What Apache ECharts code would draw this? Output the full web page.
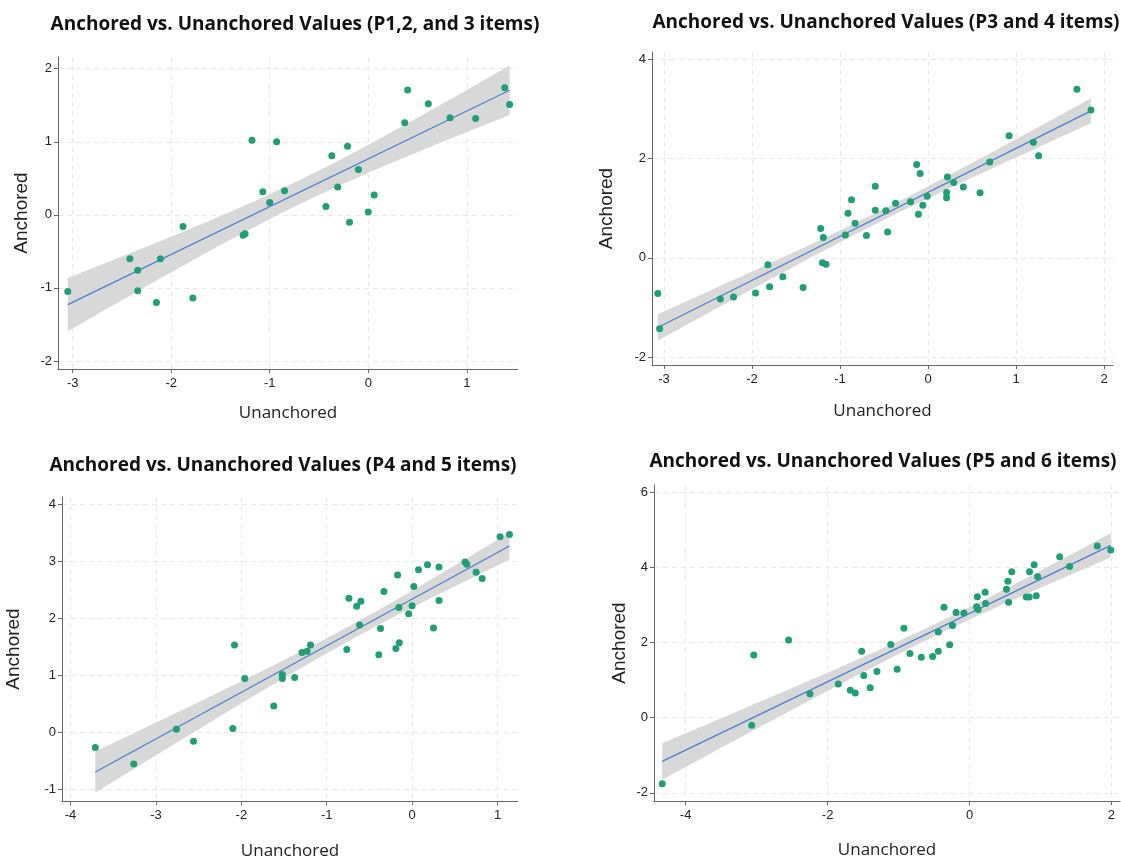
<!DOCTYPE html>
<html>
<head>
<meta charset="utf-8">
<script src="https://cdn.jsdelivr.net/npm/echarts@6/dist/echarts.min.js"></script>
<style>
	html, body { margin: 0; padding: 0; background: #fff; }
	#main { width: 1121px; height: 861px; }
</style>
</head>
<body>
<div id="main"></div>
<script>
	'use strict';

	// values
	var titles = [
		'Anchored vs. Unanchored Values (P1,2, and 3 items)',
		'Anchored vs. Unanchored Values (P3 and 4 items)',
		'Anchored vs. Unanchored Values (P4 and 5 items)',
		'Anchored vs. Unanchored Values (P5 and 6 items)'
	];

	var p1X = [-3.05, -2.42, -2.34, -2.34, -2.15, -2.11, -1.88, -1.78, -1.27, -1.25, -1.18, -1.07, -1.00, -0.93, -0.85,
		-0.43, -0.37, -0.31, -0.21, -0.19, -0.10, 0.00, 0.06, 0.37, 0.40, 0.61, 0.83, 1.09, 1.385, 1.435];
	var p1Y = [-1.05, -0.60, -0.76, -1.04, -1.20, -0.60, -0.16, -1.14, -0.28, -0.26, 1.02, 0.315, 0.17, 1.00, 0.33,
		0.115, 0.81, 0.38, 0.94, -0.10, 0.62, 0.04, 0.27, 1.26, 1.71, 1.52, 1.33, 1.32, 1.74, 1.51];

	var p2X = [-3.07, -3.05, -2.36, -2.21, -1.96, -1.82, -1.80, -1.65, -1.42, -1.22, -1.19, -1.20, -1.16, -0.94, -0.91,
		-0.87, -0.83, -0.70, -0.60, -0.60, -0.48, -0.46, -0.37, -0.20, -0.13, -0.09, -0.11, -0.06, -0.01, 0.21,
		0.21, 0.22, 0.29, 0.40, 0.59, 0.70, 0.92, 1.195, 1.255, 1.69, 1.85];
	var p2Y = [-0.72, -1.43, -0.83, -0.79, -0.71, -0.14, -0.58, -0.38, -0.60, 0.59, 0.41, -0.10, -0.13, 0.46, 0.90,
		1.17, 0.70, 0.45, 1.445, 0.96, 0.95, 0.52, 1.10, 1.13, 1.88, 1.70, 0.88, 1.06, 1.24, 1.32,
		1.21, 1.63, 1.52, 1.43, 1.31, 1.93, 2.46, 2.33, 2.06, 3.40, 2.98];

	var p3X = [-3.71, -3.26, -2.76, -2.56, -2.10, -2.08, -1.96, -1.62, -1.52, -1.52, -1.375, -1.29, -1.23, -1.19,
		-0.765, -0.74, -0.65, -0.60, -0.615, -0.39, -0.37, -0.33, -0.19, -0.15, -0.17, -0.155, -0.04, 0.00,
		0.02, 0.075, 0.18, 0.25, 0.315, 0.315, 0.62, 0.64, 0.75, 0.82, 1.03, 1.14];
	var p3Y = [-0.27, -0.56, 0.05, -0.16, 0.065, 1.53, 0.94, 0.46, 1.01, 0.94, 0.96, 1.40, 1.42, 1.53,
		1.45, 2.35, 2.21, 2.30, 1.88, 1.36, 1.82, 2.47, 1.47, 1.57, 2.76, 2.19, 2.08, 2.22,
		2.56, 2.85, 2.94, 1.83, 2.90, 2.31, 2.99, 2.95, 2.81, 2.70, 3.43, 3.47];

	var p4X = [-4.33, -3.07, -3.04, -2.55, -2.25, -1.85, -1.68, -1.61, -1.52, -1.49, -1.40, -1.305, -1.11, -1.02,
		-0.925, -0.84, -0.68, -0.52, -0.44, -0.44, -0.36, -0.28, -0.24, -0.19, -0.08, 0.11, 0.10, 0.12,
		0.22, 0.225, 0.52, 0.54, 0.55, 0.595, 0.80, 0.84, 0.845, 0.91, 0.94, 0.96, 1.27, 1.41, 1.80, 1.99];
	var p4Y = [-1.755, -0.20, 1.67, 2.07, 0.64, 0.90, 0.73, 0.66, 1.77, 1.12, 0.80, 1.23, 1.95, 1.29,
		2.38, 1.71, 1.61, 1.63, 1.77, 2.28, 2.94, 1.94, 2.45, 2.80, 2.785, 3.22, 2.95, 2.88,
		3.335, 3.04, 3.42, 3.63, 3.07, 3.88, 3.21, 3.21, 3.88, 4.07, 3.245, 3.75, 4.28, 4.02, 4.57, 4.46];

	var xTicks = [[-3, -2, -1, 0, 1], [-3, -2, -1, 0, 1, 2], [-4, -3, -2, -1, 0, 1], [-4, -2, 0, 2]];
	var yTicks = [[-2, -1, 0, 1, 2], [-2, 0, 2, 4], [-1, 0, 1, 2, 3, 4], [-2, 0, 2, 4, 6]];

	var panels = [[p1X, p1Y], [p2X, p2Y], [p3X, p3Y], [p4X, p4Y]];

	// layout
	var grids = [
		{ left: 58, top: 57, width: 460, height: 312 },
		{ left: 652, top: 52, width: 461, height: 313 },
		{ left: 62, top: 497, width: 456, height: 305 },
		{ left: 654, top: 485, width: 466, height: 316 }
	];
	var xRange = [[-3.149, 1.52], [-3.136, 2.10], [-4.10, 1.24], [-4.446, 2.12]];
	var yRange = [[-2.11, 2.16], [-2.16, 4.15], [-1.21, 4.13], [-2.215, 6.19]];
	var titlePos = [[290, 10], [881, 8], [278, 451], [878, 447]];
	var yNameGap = [27, 36, 39, 25];
	var xNameGap = [36, 38, 42, 41];

	var DOT = '#1f9e78';
	var LINE = '#4a7fd0';
	var BAND = '#d8d8d8';

	// least squares fit with 95% ci of the mean, like lfitci
	function fitci(xs, ys) {
		var n = xs.length, mx = 0, my = 0, sxx = 0, sxy = 0, sse = 0, i;
		for (i = 0; i < n; i++) { mx += xs[i]; my += ys[i]; }
		mx /= n; my /= n;
		for (i = 0; i < n; i++) {
			sxx += (xs[i] - mx) * (xs[i] - mx);
			sxy += (xs[i] - mx) * (ys[i] - my);
		}
		var b = sxy / sxx, a = my - b * mx;
		for (i = 0; i < n; i++) { sse += Math.pow(ys[i] - a - b * xs[i], 2); }
		var s = Math.sqrt(sse / (n - 2));
		var t = 1.96 + 2.4 / (n - 2);
		var lo = Math.min.apply(null, xs), hi = Math.max.apply(null, xs);
		var upper = [], lower = [];
		for (i = 0; i <= 40; i++) {
			var x = lo + (hi - lo) * i / 40;
			var yh = a + b * x;
			var se = s * Math.sqrt(1 / n + (x - mx) * (x - mx) / sxx);
			upper.push([x, yh + t * se]);
			lower.push([x, yh - t * se]);
		}
		return { line: [[lo, a + b * lo], [hi, a + b * hi]], upper: upper, lower: lower };
	}

	var option = {
		animation: false,
		backgroundColor: '#fff',
		title: [],
		grid: [],
		xAxis: [],
		yAxis: [],
		series: []
	};

	panels.forEach(function (p, k) {
		var fit = fitci(p[0], p[1]);
		var pts = p[0].map(function (x, i) { return [x, p[1][i]]; });

		option.title.push({
			text: titles[k],
			left: titlePos[k][0],
			top: titlePos[k][1],
			textAlign: 'center',
			textStyle: { fontFamily: 'Open Sans', fontWeight: 'bold', fontSize: 19, color: '#111' }
		});
		option.grid.push(grids[k]);
		option.xAxis.push({
			type: 'value',
			gridIndex: k,
			min: xRange[k][0],
			max: xRange[k][1],
			name: 'Unanchored',
			nameLocation: 'middle',
			nameGap: xNameGap[k],
			nameTextStyle: { fontFamily: 'Open Sans', fontSize: 17, color: '#222' },
			axisLine: { onZero: false, lineStyle: { color: '#666', width: 1 } },
			axisTick: { length: 4, lineStyle: { color: '#666' }, customValues: xTicks[k] },
			axisLabel: { customValues: xTicks[k], fontFamily: 'Liberation Sans', fontSize: 13, color: '#222', margin: 8 },
			splitLine: { show: true, lineStyle: { color: '#e8e8e8', type: [5, 4] } }
		});
		option.yAxis.push({
			type: 'value',
			gridIndex: k,
			min: yRange[k][0],
			max: yRange[k][1],
			name: 'Anchored',
			nameLocation: 'middle',
			nameGap: yNameGap[k],
			nameTextStyle: { fontFamily: 'Liberation Sans', fontSize: 19, color: '#222' },
			axisLine: { show: true, onZero: false, lineStyle: { color: '#666', width: 1 } },
			axisTick: { show: true, length: 4, lineStyle: { color: '#666' }, customValues: yTicks[k] },
			axisLabel: { customValues: yTicks[k], fontFamily: 'Liberation Sans', fontSize: 13, color: '#222', margin: 6 },
			splitLine: { show: true, lineStyle: { color: '#e8e8e8', type: [5, 4] } }
		});

		// ci band
		option.series.push({
			type: 'custom',
			xAxisIndex: k,
			yAxisIndex: k,
			silent: true,
			z: 1,
			data: [fit.line[0]],
			renderItem: function (params, api) {
				var poly = fit.upper.concat(fit.lower.slice().reverse()).map(function (d) {
					return api.coord(d);
				});
				return { type: 'polygon', shape: { points: poly }, style: { fill: BAND } };
			}
		});
		option.series.push({
			type: 'line',
			xAxisIndex: k,
			yAxisIndex: k,
			data: fit.line,
			symbol: 'none',
			z: 2,
			lineStyle: { color: LINE, width: 1.2 }
		});
		option.series.push({
			type: 'scatter',
			xAxisIndex: k,
			yAxisIndex: k,
			data: pts,
			symbolSize: 7,
			z: 3,
			itemStyle: { color: DOT, opacity: 1 }
		});
	});

	var chart = echarts.init(document.getElementById('main'));
	chart.setOption(option);
</script>
</body>
</html>
